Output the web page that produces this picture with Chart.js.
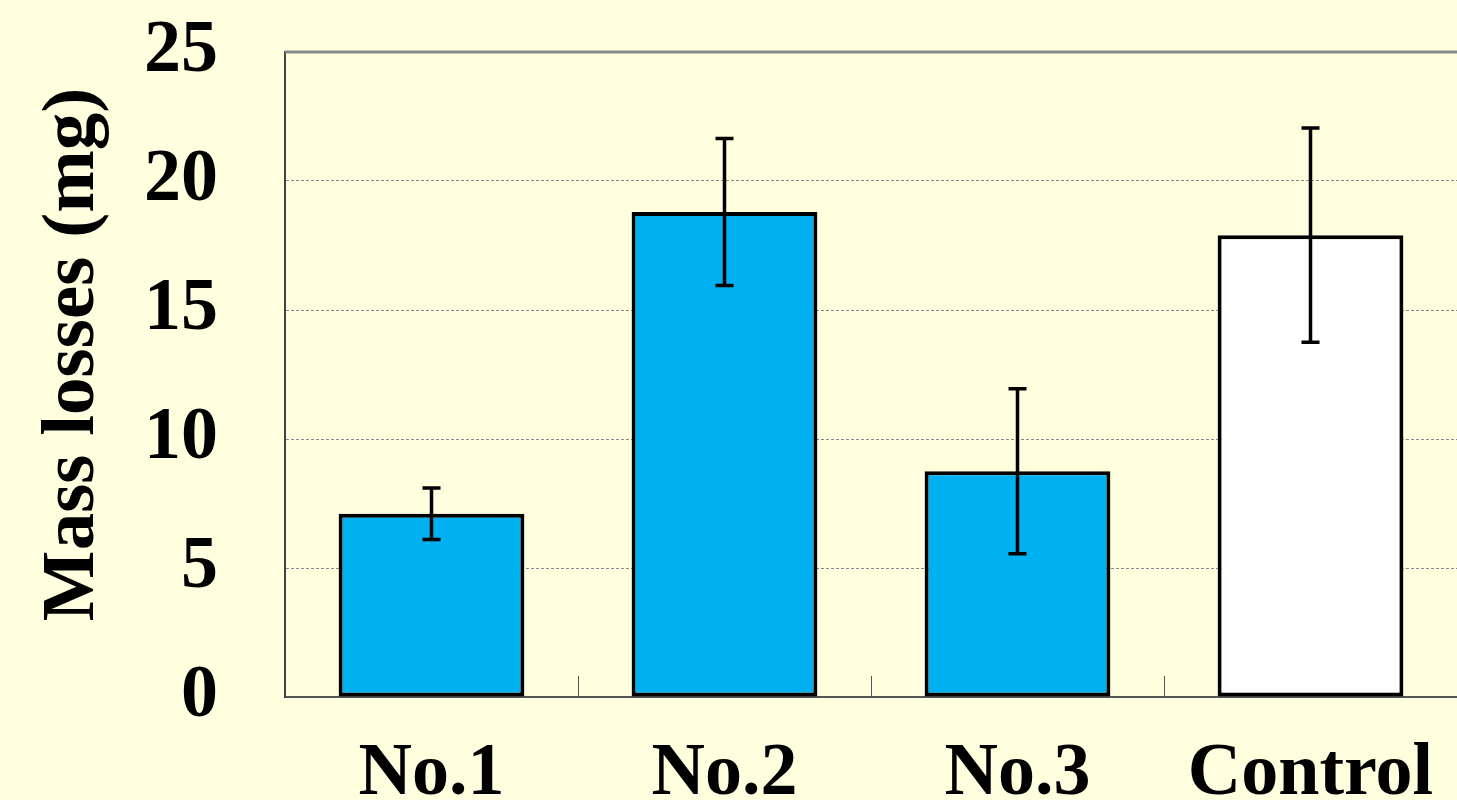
<!DOCTYPE html>
<html>
<head>
<meta charset="utf-8">
<script src="https://cdn.jsdelivr.net/npm/chart.js@4/dist/chart.umd.min.js"></script>
<style>
    html, body { margin: 0; padding: 0; overflow: hidden; background: #FFFFE0; }
    #wrap { width: 1457px; height: 800px; }
</style>
</head>
<body>
<div id="wrap"><canvas id="chart"></canvas></div>
<script>
const categories = ['No.1', 'No.2', 'No.3', 'Control'];
const massLoss = [7.1, 18.8, 8.75, 17.9];
const massLossSd = [1.0, 2.85, 3.2, 4.15];
const barColors = ['#00B0F0', '#00B0F0', '#00B0F0', '#FFFFFF'];
const yTicks = [0, 5, 10, 15, 20, 25];
const yTitle = 'Mass losses (mg)';

const SERIF = '"Liberation Serif", "Times New Roman", serif';

// error bars, x-axis inner ticks, top frame line and the rotated y title
const extras = {
    id: 'extras',
    afterDatasetsDraw(chart) {
        const { ctx, chartArea, scales: { x, y } } = chart;

        ctx.save();
        ctx.strokeStyle = '#000';
        ctx.lineWidth = 3.5;
        massLoss.forEach((v, i) => {
            const cx = x.getPixelForValue(i);
            const top = y.getPixelForValue(v + massLossSd[i]);
            const bottom = y.getPixelForValue(v - massLossSd[i]);
            ctx.beginPath();
            ctx.moveTo(cx, top);
            ctx.lineTo(cx, bottom);
            ctx.moveTo(cx - 9, top);
            ctx.lineTo(cx + 9, top);
            ctx.moveTo(cx - 9, bottom);
            ctx.lineTo(cx + 9, bottom);
            ctx.stroke();
        });

        // ticks between categories, pointing inward
        ctx.strokeStyle = '#555';
        ctx.lineWidth = 1;
        for (let i = 0; i < categories.length - 1; i++) {
            const bx = Math.round((x.getPixelForValue(i) + x.getPixelForValue(i + 1)) / 2) + 0.5;
            ctx.beginPath();
            ctx.moveTo(bx, chartArea.bottom);
            ctx.lineTo(bx, chartArea.bottom - 21);
            ctx.stroke();
        }

        // top frame
        ctx.strokeStyle = '#888';
        ctx.lineWidth = 3;
        const ty = y.getPixelForValue(25);
        ctx.beginPath();
        ctx.moveTo(chartArea.left, ty);
        ctx.lineTo(chartArea.right, ty);
        ctx.stroke();

        ctx.fillStyle = '#000';
        ctx.font = `bold 75px ${SERIF}`;
        ctx.textAlign = 'center';
        ctx.textBaseline = 'alphabetic';
        ctx.translate(93, (chartArea.top + chartArea.bottom) / 2 - 20);
        ctx.rotate(-Math.PI / 2);
        ctx.fillText(yTitle, 0, 0);
        ctx.restore();
    }
};

const fontOpts = { family: SERIF, size: 74, weight: 'bold' };

new Chart(document.getElementById('chart'), {
    type: 'bar',
    data: {
        labels: categories,
        datasets: [{
            data: massLoss,
            backgroundColor: barColors,
            borderColor: '#000',
            borderWidth: 4,
            borderSkipped: false,
            categoryPercentage: 1,
            barPercentage: 0.634
        }]
    },
    options: {
        responsive: true,
        maintainAspectRatio: false,
        animation: false,
        devicePixelRatio: 1,
        layout: { padding: { top: 52, right: 0, left: 0, bottom: 0 } },
        plugins: { legend: { display: false }, tooltip: { enabled: false } },
        scales: {
            x: {
                grid: { display: false },
                border: { display: true, color: '#555', width: 2 },
                ticks: { color: '#000', font: fontOpts, padding: 25, maxRotation: 0 },
                afterFit(scale) {
                    scale.height = 103;
                    scale.paddingLeft = 0;
                    scale.paddingRight = 0;
                }
            },
            y: {
                min: 0,
                max: 25,
                afterBuildTicks(scale) { scale.ticks = yTicks.map(v => ({ value: v })); },
                grid: {
                    drawTicks: false,
                    color: ctx => (ctx.tick && ctx.tick.value > 0 && ctx.tick.value < 25 ? '#888' : 'rgba(0,0,0,0)'),
                    lineWidth: 1
                },
                border: { display: true, color: '#444', width: 2, dash: [3, 2] },
                ticks: { color: '#000', font: fontOpts, padding: 67 },
                afterFit(scale) {
                    scale.width = 285;
                    scale.paddingTop = 0;
                    scale.paddingBottom = 0;
                }
            }
        }
    },
    plugins: [extras]
});
</script>
</body>
</html>
